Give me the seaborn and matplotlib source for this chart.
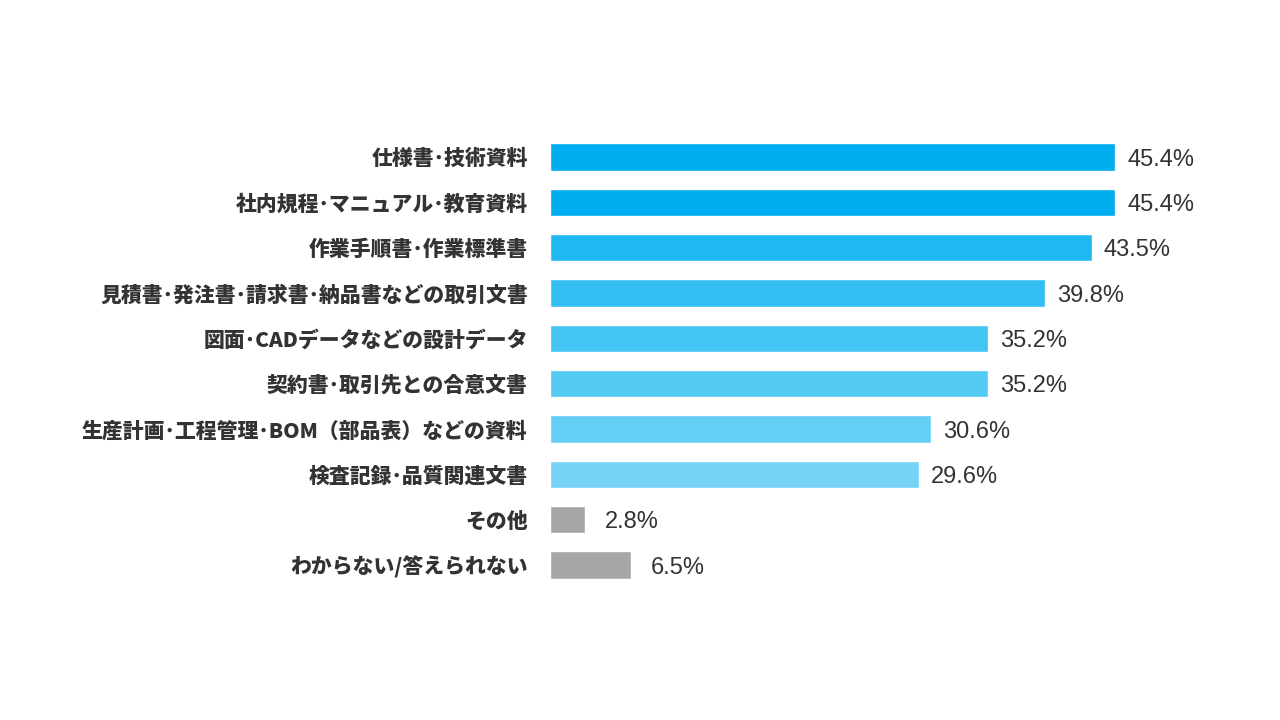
import matplotlib
matplotlib.use('Agg')
import matplotlib.pyplot as plt
import pandas as pd
import seaborn as sns

categories = [
    '仕様書･技術資料',
    '社内規程･マニュアル･教育資料',
    '作業手順書･作業標準書',
    '見積書･発注書･請求書･納品書などの取引文書',
    '図面･CADデータなどの設計データ',
    '契約書･取引先との合意文書',
    '生産計画･工程管理･BOM（部品表）などの資料',
    '検査記録･品質関連文書',
    'その他',
    'わからない/答えられない',
]
values = [45.4, 45.4, 43.5, 39.8, 35.2, 35.2, 30.6, 29.6, 2.8, 6.5]
colors = ['#00AEEF', '#00AEEF', '#20B8F0', '#32BEF1', '#43C4F2',
          '#53C9F3', '#65CEF4', '#76D3F5', '#A6A6A6', '#A6A6A6']

df = pd.DataFrame({'category': categories, 'value': values})

sns.set_theme(style='white')
plt.rcParams['font.family'] = ['Noto Sans CJK JP', 'DejaVu Sans']

fig = plt.figure(figsize=(12.8, 7.2), dpi=100)
ax = fig.add_axes([0.4297, 0.1838, 0.4863, 0.6297])

sns.barplot(data=df, x='value', y='category', hue='category',
            palette=colors, legend=False, width=0.6, saturation=1,
            ax=ax)

ax.set_xlim(0, 50)
ax.set_ylim(9.5, -0.5)
ax.set_xlabel('')
ax.set_ylabel('')
ax.set_xticks([])
ax.tick_params(axis='y', length=0, pad=16)
for lbl in ax.get_yticklabels():
    lbl.set_fontweight('heavy')
    lbl.set_fontsize(15)
    lbl.set_color('#333333')
sns.despine(ax=ax, left=True, bottom=True)

for i, v in enumerate(values):
    off = 20 if colors[i] == '#A6A6A6' else 12
    ax.annotate(f'{v:.1f}%', xy=(v, i), xytext=(off * 0.72, -2),
                textcoords='offset points', va='center', ha='left',
                fontsize=17, color='#333333', family='Liberation Sans',
                annotation_clip=False)

fig.savefig('out.png', dpi=100)
